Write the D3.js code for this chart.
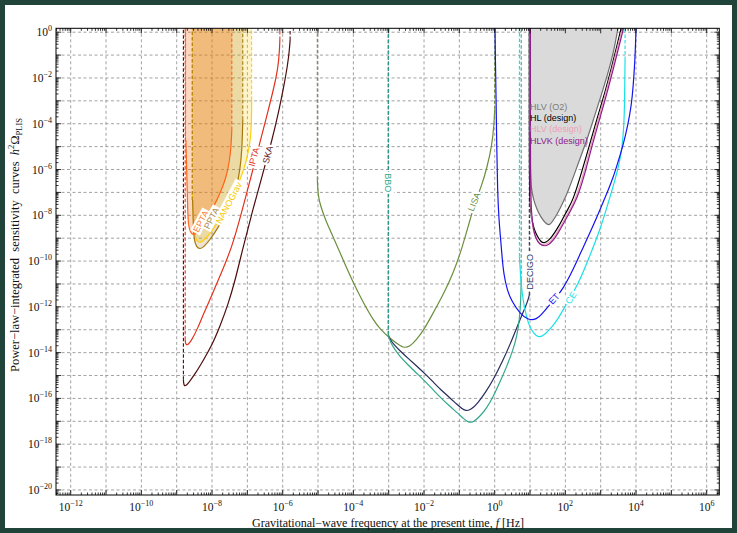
<!DOCTYPE html>
<html>
<head>
<meta charset="utf-8">
<script src="https://cdnjs.cloudflare.com/ajax/libs/d3/7.8.5/d3.min.js"></script>
<style>
  body { margin: 0; background: #21443a; }
  svg { display: block; }
  text { white-space: pre; }
</style>
</head>
<body>
<svg width="737" height="533"></svg>
<script>
// all values are log10 exponents: [log10 f/Hz, log10 h^2 Omega_PLIS]
var xDomainExp = [-12.416, 6.357];
var yDomainExp = [-20.22, 0.17];
var xLabelExp = [-12, -10, -8, -6, -4, -2, 0, 2, 4, 6];
var yLabelExp = [0, -2, -4, -6, -8, -10, -12, -14, -16, -18, -20];

// PTAs
var eptaEdges = [-8.75, -7.44];
var eptaCurve = [[-8.74,-4.71],[-8.71,-6.45],[-8.69,-7.76],[-8.67,-8.46],[-8.61,-8.75],[-8.54,-8.86],
  [-8.43,-8.79],[-8.26,-8.42],[-8.06,-7.89],[-7.87,-7.37],[-7.72,-6.85],[-7.59,-6.28],[-7.51,-5.67],
  [-7.46,-5.01],[-7.44,-4.27]];
var pptaEdges = [-8.56, -7.13];
var pptaCurve = [[-8.55,-7.33],[-8.53,-8.42],[-8.51,-9.07],[-8.44,-9.40],[-8.34,-9.48],[-8.23,-9.38],
  [-8.06,-9.07],[-7.83,-8.55],[-7.60,-7.89],[-7.43,-7.33],[-7.29,-6.67],[-7.21,-6.02],[-7.15,-5.14],
  [-7.13,-3.83]];
var nanogravEdges = [-8.56, -6.88];
var nanogravCurve = [[-8.55,-7.11],[-8.53,-8.20],[-8.50,-8.86],[-8.43,-9.14],[-8.34,-9.20],[-8.20,-9.07],
  [-8.00,-8.68],[-7.77,-8.16],[-7.55,-7.59],[-7.32,-6.89],[-7.12,-6.10],[-7.00,-5.45],[-6.91,-4.71],
  [-6.88,-3.83],[-6.88,-2.96]];
var iptaEdges = [-8.76, -6.08];
var iptaCurve = [[-8.76,-13.44],[-8.75,-13.62],[-8.70,-13.70],[-8.57,-13.44],[-8.40,-12.92],[-8.23,-12.26],
  [-8.01,-11.52],[-7.75,-10.56],[-7.44,-9.42],[-7.18,-7.98],[-6.86,-6.10],[-6.64,-4.79],[-6.42,-3.48],
  [-6.25,-2.43],[-6.13,-1.56],[-6.09,-0.77],[-6.08,-0.34]];
var skaEdges = [-8.81, -5.79];
var skaCurve = [[-8.81,-15.19],[-8.80,-15.42],[-8.75,-15.48],[-8.62,-15.23],[-8.48,-14.93],[-8.26,-14.37],
  [-8.01,-13.70],[-7.77,-12.83],[-7.55,-11.91],[-7.35,-10.87],[-7.16,-9.64],[-6.87,-7.89],[-6.55,-6.10],
  [-6.30,-4.71],[-6.10,-3.39],[-5.96,-2.30],[-5.86,-1.43],[-5.81,-0.77],[-5.79,-0.34]];

// space-borne
var lisaEdges = [-5.02, 0.00];
var lisaCurve = [[-5.02,-6.45],[-5.00,-7.11],[-4.94,-7.54],[-4.77,-8.29],[-4.57,-8.94],[-4.29,-9.95],
  [-4.00,-10.95],[-3.73,-11.78],[-3.44,-12.57],[-3.22,-13.01],[-3.01,-13.31],[-2.79,-13.58],[-2.59,-13.80],
  [-2.40,-13.74],[-2.21,-13.44],[-1.97,-12.92],[-1.74,-12.26],[-1.46,-11.48],[-1.17,-10.52],[-0.92,-9.42],
  [-0.70,-8.20],[-0.53,-7.33],[-0.37,-6.71],[-0.22,-5.93],[-0.08,-4.97],[-0.02,-4.05],[0.00,-3.39]];
var bboEdges = [-3.01, 0.75];
var bboCurve = [[-3.01,-13.22],[-2.96,-13.53],[-2.82,-13.88],[-2.68,-14.17],[-2.45,-14.54],[-2.21,-14.90],
  [-1.97,-15.25],[-1.74,-15.63],[-1.52,-15.98],[-1.26,-16.36],[-1.04,-16.65],[-0.87,-16.90],[-0.75,-17.05],
  [-0.61,-17.05],[-0.42,-16.79],[-0.22,-16.41],[-0.04,-15.92],[0.15,-15.28],[0.34,-14.61],[0.52,-13.88],
  [0.63,-13.27],[0.70,-12.57],[0.74,-11.70],[0.75,-10.82]];
var decigoEdges = [-3.01, 0.98];
var decigoCurve = [[-3.01,-13.22],[-2.96,-13.44],[-2.82,-13.70],[-2.68,-13.92],[-2.45,-14.25],[-2.21,-14.58],
  [-1.97,-14.93],[-1.74,-15.28],[-1.52,-15.63],[-1.26,-15.98],[-1.07,-16.26],[-0.92,-16.46],[-0.81,-16.55],
  [-0.67,-16.50],[-0.47,-16.19],[-0.27,-15.76],[-0.04,-15.19],[0.24,-14.32],[0.43,-13.66],[0.60,-13.01],
  [0.77,-12.35],[0.92,-11.83],[0.98,-11.48]];

// ground-based
var etCurve = [[0.01,0.19],[0.02,-1.21],[0.04,-2.96],[0.06,-5.14],[0.08,-6.89],[0.12,-8.20],[0.17,-9.07],
  [0.21,-9.86],[0.26,-10.60],[0.35,-11.26],[0.49,-11.78],[0.72,-12.30],[0.95,-12.58],[1.19,-12.55],
  [1.34,-12.31],[1.47,-12.06],[1.71,-11.65],[1.94,-11.20],[2.22,-10.38],[2.51,-9.37],[2.76,-8.55],
  [2.98,-7.76],[3.18,-7.02],[3.35,-6.37],[3.49,-5.67],[3.64,-4.92],[3.77,-4.05],[3.87,-3.18],[3.92,-2.38],
  [3.97,-1.21],[3.99,-0.34],[4.00,0.19]];
var ceEdges = [0.70, 3.69];
var ceCurve = [[0.70,-9.80],[0.73,-10.60],[0.77,-11.35],[0.84,-12.04],[0.95,-12.75],[1.09,-13.15],
  [1.24,-13.36],[1.42,-13.22],[1.62,-12.87],[1.76,-12.61],[2.02,-11.91],[2.37,-11.00],[2.67,-9.86],
  [2.98,-8.64],[3.18,-7.63],[3.41,-6.45],[3.60,-5.29],[3.67,-3.83],[3.68,-2.38],[3.69,-1.21]];
var hlvO2Curve = [[1.00,0.19],[1.00,-6.02],[1.03,-6.80],[1.10,-7.33],[1.20,-7.76],[1.31,-8.09],[1.44,-8.35],
  [1.55,-8.45],[1.65,-8.24],[1.79,-7.89],[1.93,-7.46],[2.08,-6.93],[2.25,-6.23],[2.42,-5.49],[2.61,-4.71],
  [2.81,-3.74],[3.01,-2.78],[3.21,-1.78],[3.38,-0.77],[3.49,0.19]];
var hlCurve = [[0.98,0.19],[0.98,-6.67],[1.00,-7.46],[1.04,-8.11],[1.11,-8.59],[1.21,-8.94],[1.31,-9.16],
  [1.40,-9.22],[1.51,-9.12],[1.62,-8.94],[1.77,-8.59],[1.91,-8.20],[2.06,-7.76],[2.22,-7.33],[2.44,-6.23],
  [2.70,-4.84],[2.90,-3.74],[3.12,-2.65],[3.32,-1.47],[3.46,-0.60],[3.58,0.19]];
var hlvCurve = [[1.00,0.19],[1.00,-6.89],[1.03,-7.85],[1.08,-8.62],[1.16,-9.00],[1.26,-9.23],[1.39,-9.30],
  [1.52,-9.22],[1.63,-9.07],[1.77,-8.74],[1.94,-8.29],[2.11,-7.81],[2.30,-7.24],[2.50,-6.28],[2.73,-4.88],
  [2.95,-3.70],[3.15,-2.61],[3.35,-1.43],[3.49,-0.56],[3.62,0.19]];
var hlvkCurve = [[1.01,0.19],[1.01,-6.89],[1.04,-7.85],[1.09,-8.64],[1.17,-9.03],[1.27,-9.27],[1.40,-9.36],
  [1.54,-9.27],[1.65,-9.12],[1.79,-8.79],[1.96,-8.33],[2.13,-7.85],[2.33,-7.28],[2.53,-6.32],[2.76,-4.92],
  [2.98,-3.74],[3.18,-2.65],[3.38,-1.47],[3.52,-0.60],[3.65,0.19]];

var p10 = function(e) { return Math.pow(10, e); };

var svg = d3.select("svg");
var x = d3.scaleLog().domain(xDomainExp.map(p10)).range([56, 719.3]);
var y = d3.scaleLog().domain(yDomainExp.map(p10)).range([495, 28.3]);
var X = function(d) { return x(p10(d[0])); },
    Y = function(d) { return y(p10(d[1])); };
var top_ = yDomainExp[1];

svg.append("rect").attr("x", 5).attr("y", 5).attr("width", 727).attr("height", 523).attr("fill", "#fff");

svg.append("clipPath").attr("id", "plot").append("rect")
  .attr("x", 56).attr("y", 28.3).attr("width", 663.3).attr("height", 466.7);

// grid
var xMajor = d3.range(-12, 7), yMajor = d3.range(-20, 1);
var grid = svg.append("g").attr("stroke", "#8a8a8a").attr("stroke-width", 0.8).attr("stroke-dasharray", "3,2.5");
grid.selectAll("line.v").data(xMajor).enter().append("line")
  .attr("x1", function(e) { return x(p10(e)); }).attr("x2", function(e) { return x(p10(e)); })
  .attr("y1", 28.3).attr("y2", 495);
grid.selectAll("line.h").data(yMajor).enter().append("line")
  .attr("y1", function(e) { return y(p10(e)); }).attr("y2", function(e) { return y(p10(e)); })
  .attr("x1", 56).attr("x2", 719.3);

var plot = svg.append("g").attr("clip-path", "url(#plot)");
var line = d3.line().x(X).y(Y).curve(d3.curveBasis);

// filled regions (existing experiments)
var fills = [
  { pts: nanogravCurve, edges: nanogravEdges, fill: "rgba(255,205,0,0.22)" },
  { pts: pptaCurve, edges: pptaEdges, fill: "rgba(150,100,10,0.18)" },
  { pts: eptaCurve, edges: eptaEdges, fill: "rgba(255,105,15,0.27)" }
];
fills.forEach(function(f) {
  var poly = [[f.edges[0], top_], [f.edges[0], top_]].concat(f.pts).concat([[f.edges[1], top_], [f.edges[1], top_]]);
  plot.append("path").attr("d", line(poly)).attr("fill", f.fill).attr("stroke", "none");
});
plot.append("path").attr("d", line(hlvO2Curve)).attr("fill", "#dadada").attr("stroke", "none");

var curves = [
  { pts: skaCurve, edges: skaEdges, color: "#4d0d0d" },
  { pts: iptaCurve, edges: iptaEdges, color: "#e2321c" },
  { pts: nanogravCurve, edges: nanogravEdges, color: "#ffcf10" },
  { pts: pptaCurve, edges: pptaEdges, color: "#a5780f" },
  { pts: eptaCurve, edges: eptaEdges, color: "#ff6418" },
  { pts: lisaCurve, edges: lisaEdges, color: "#6b8f3c" },
  { pts: decigoCurve, edges: decigoEdges, color: "#262a5c" },
  { pts: bboCurve, edges: bboEdges, color: "#2fa88a" },
  { pts: ceCurve, edges: ceEdges, color: "#19e0e6" },
  { pts: etCurve, edges: null, color: "#1414f0" },
  { pts: hlvO2Curve, edges: null, color: "#6f6f6f" },
  { pts: hlCurve, edges: null, color: "#000000" },
  { pts: hlvCurve, edges: null, color: "#ec9fb8" },
  { pts: hlvkCurve, edges: null, color: "#8e1c8c" }
];
curves.forEach(function(c) {
  if (c.edges) {
    var a = c.pts[0], b = c.pts[c.pts.length - 1];
    [[[c.edges[0], a[1]], [c.edges[0], top_]], [[c.edges[1], b[1]], [c.edges[1], top_]]].forEach(function(seg) {
      plot.append("line").attr("x1", X(seg[0])).attr("y1", Y(seg[0])).attr("x2", X(seg[1])).attr("y2", Y(seg[1]))
        .attr("stroke", c.color).attr("stroke-width", 1.1).attr("stroke-dasharray", "3.5,2");
    });
  }
  plot.append("path").attr("d", line(c.pts)).attr("fill", "none")
    .attr("stroke", c.color).attr("stroke-width", 1.2);
});

// curve labels: [text, log f, log Omega, angle, colour]
var curveLabels = [
  ["EPTA", -8.31, -8.27, -62, "#ff7a2a"],
  ["PPTA", -8.01, -8.13, -62, "#a88a48"],
  ["NANOGrav", -7.52, -7.46, -62, "#f7c800"],
  ["IPTA", -6.81, -5.45, -75, "#e2321c"],
  ["SKA", -6.42, -5.36, -75, "#5a1616"],
  ["BBO", -3.01, -6.58, 90, "#2fa88a"],
  ["LISA", -0.58, -7.41, -68, "#6b8f3c"],
  ["DECIGO", 0.99, -10.47, -90, "#2e3262"],
  ["ET", 1.68, -11.65, -48, "#1414f0"],
  ["CE", 2.16, -11.61, -57, "#19e0e6"]
];
curveLabels.forEach(function(l) {
  var g = svg.append("g").attr("transform", "translate(" + X([l[1], l[2]]) + "," + Y([l[1], l[2]]) + ") rotate(" + l[3] + ")");
  var t = g.append("text").attr("text-anchor", "middle").attr("dominant-baseline", "central")
    .attr("font-family", "Liberation Sans, Arial, sans-serif").attr("font-size", 9)
    .attr("fill", l[4]).text(l[0]);
  var bb = t.node().getBBox();
  g.insert("rect", "text").attr("x", bb.x - 1.5).attr("y", bb.y - 0.5)
    .attr("width", bb.width + 3).attr("height", bb.height + 1).attr("fill", "#fff");
});

var legendLabels = [
  ["HLV (O2)", 1.00, -3.39, "#7b7b7b"],
  ["HL (design)", 1.00, -3.90, "#000000"],
  ["HLV (design)", 1.00, -4.38, "#ec9fb8"],
  ["HLVK (design)", 1.00, -4.88, "#8e1c8c"]
];
svg.selectAll("text.leg").data(legendLabels).enter().append("text")
  .attr("x", function(d) { return X([d[1], d[2]]); }).attr("y", function(d) { return Y([d[1], d[2]]); })
  .attr("font-family", "Liberation Sans, Arial, sans-serif").attr("font-size", 9)
  .attr("fill", function(d) { return d[3]; }).text(function(d) { return d[0]; });

// frame and ticks (inward, all four sides)
var minor = function(lo, hi) {
  var out = [];
  d3.range(Math.floor(lo), Math.ceil(hi)).forEach(function(n) {
    d3.range(2, 10).forEach(function(k) {
      var e = n + Math.log10(k);
      if (e > lo && e < hi) out.push(e);
    });
  });
  return out;
};
var ticks = svg.append("g").attr("stroke", "#000").attr("stroke-width", 0.8);
[[xMajor, 5], [minor(xDomainExp[0], xDomainExp[1]), 2.5]].forEach(function(set) {
  set[0].forEach(function(e) {
    var xx = x(p10(e));
    ticks.append("line").attr("x1", xx).attr("x2", xx).attr("y1", 495).attr("y2", 495 - set[1]);
    ticks.append("line").attr("x1", xx).attr("x2", xx).attr("y1", 28.3).attr("y2", 28.3 + set[1]);
  });
});
[[yMajor, 5], [minor(yDomainExp[0], yDomainExp[1]), 2.5]].forEach(function(set) {
  set[0].forEach(function(e) {
    var yy = y(p10(e));
    ticks.append("line").attr("y1", yy).attr("y2", yy).attr("x1", 56).attr("x2", 56 + set[1]);
    ticks.append("line").attr("y1", yy).attr("y2", yy).attr("x1", 719.3).attr("x2", 719.3 - set[1]);
  });
});
svg.append("rect").attr("x", 56).attr("y", 28.3).attr("width", 663.3).attr("height", 466.7)
  .attr("fill", "none").attr("stroke", "#000").attr("stroke-width", 1);

// tick labels
var serif = "Liberation Serif, Times New Roman, serif";
var expText = function(sel, e) {
  sel.append("tspan").text("10");
  sel.append("tspan").attr("dy", -5).attr("font-size", 8).text(e < 0 ? "\u2212" + (-e) : String(e));
};
xLabelExp.forEach(function(e) {
  var t = svg.append("text").attr("x", x(p10(e))).attr("y", 511).attr("text-anchor", "middle")
    .attr("font-family", serif).attr("font-size", 11.5).attr("fill", "#111");
  expText(t, e);
});
yLabelExp.forEach(function(e) {
  var t = svg.append("text").attr("x", 52).attr("y", y(p10(e)) + 4).attr("text-anchor", "end")
    .attr("font-family", serif).attr("font-size", 11.5).attr("fill", "#111");
  expText(t, e);
});

// axis titles
var xt = svg.append("text").attr("x", 388).attr("y", 527).attr("text-anchor", "middle")
  .attr("font-family", serif).attr("font-size", 12).attr("fill", "#111");
xt.append("tspan").text("Gravitational\u2212wave frequency at the present time, ");
xt.append("tspan").attr("font-style", "italic").text("f");
xt.append("tspan").text(" [Hz]");

var yt = svg.append("text").attr("transform", "translate(19,372) rotate(-90)")
  .attr("font-family", serif).attr("font-size", 12.5).attr("fill", "#111");
yt.append("tspan").text("Power\u2212law\u2212integrated  sensitivity  curves  ");
yt.append("tspan").attr("font-style", "italic").text("h");
yt.append("tspan").attr("dy", -5).attr("font-size", 8.5).text("2");
yt.append("tspan").attr("dy", 5).text("\u03A9");
yt.append("tspan").attr("dy", 3).attr("font-size", 8.5).text("PLIS");
</script>
</body>
</html>
